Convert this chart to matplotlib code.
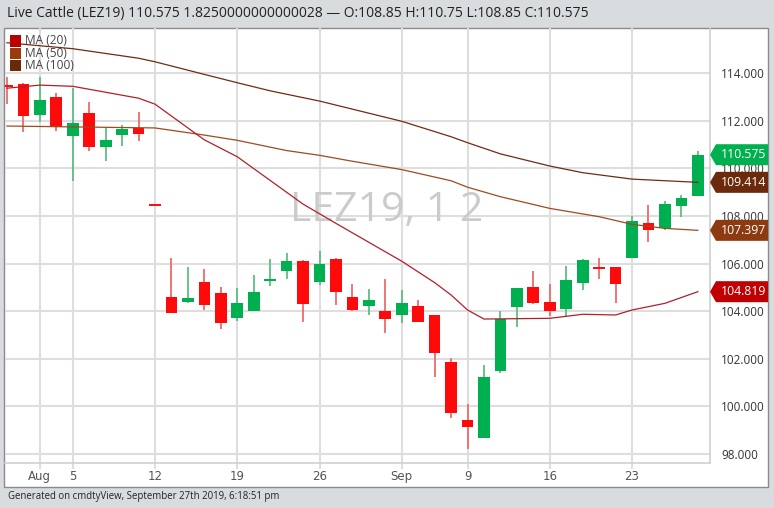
import matplotlib
matplotlib.use("Agg")
import matplotlib.pyplot as plt
from matplotlib.patches import Rectangle, Polygon
import matplotlib.transforms as mtransforms
from matplotlib.ticker import FuncFormatter

# ---------------- data ----------------
dates = ["Jul 30", "Jul 31", "Aug 1", "Aug 2",
         "Aug 5", "Aug 6", "Aug 7", "Aug 8", "Aug 9",
         "Aug 12", "Aug 13", "Aug 14", "Aug 15", "Aug 16",
         "Aug 19", "Aug 20", "Aug 21", "Aug 22", "Aug 23",
         "Aug 26", "Aug 27", "Aug 28", "Aug 29", "Aug 30",
         "Sep 3", "Sep 4", "Sep 5", "Sep 6",
         "Sep 9", "Sep 10", "Sep 11", "Sep 12", "Sep 13",
         "Sep 16", "Sep 17", "Sep 18", "Sep 19", "Sep 20",
         "Sep 23", "Sep 24", "Sep 25", "Sep 26", "Sep 27"]
opens = [113.47, 113.55, 112.24, 112.99,
         111.37, 112.32, 110.91, 111.40, 111.68,
         108.46, 104.58, 104.40, 105.24, 104.78,
         103.70, 104.02, 105.28, 105.69, 106.11,
         105.24, 106.19, 104.58, 104.23, 104.01,
         103.82, 104.22, 103.84, 101.85,
         99.43, 98.66, 101.49, 104.19, 105.00,
         104.40, 104.08, 105.20, 105.85, 105.84,
         106.22, 107.69, 107.51, 108.43, 108.85]
highs = [113.84, 113.57, 113.85, 113.18,
         113.37, 112.80, 111.73, 111.82, 112.38,
         108.46, 106.22, 105.87, 105.79, 105.03,
         104.96, 105.52, 106.19, 106.43, 106.13,
         106.53, 106.25, 105.14, 104.92, 105.35,
         104.89, 104.47, 103.84, 102.02,
         100.10, 101.74, 104.02, 104.96, 105.70,
         105.14, 105.90, 106.18, 106.22, 105.84,
         108.00, 108.46, 108.64, 108.88, 110.75]
lows = [112.70, 111.54, 111.96, 111.58,
        109.48, 110.74, 110.32, 110.94, 111.16,
        108.46, 103.94, 104.33, 104.05, 103.24,
        103.60, 104.02, 105.06, 105.34, 103.53,
        105.10, 104.26, 104.02, 103.84, 103.07,
        103.49, 103.56, 101.25, 99.50,
        98.20, 98.66, 101.39, 103.35, 104.29,
        103.80, 103.77, 104.89, 105.34, 104.36,
        106.22, 106.92, 107.41, 107.97, 108.85]
closes = [113.45, 112.21, 112.87, 111.73,
          111.92, 110.89, 111.19, 111.64, 111.45,
          108.46, 103.94, 104.55, 104.26, 103.52,
          104.36, 104.82, 105.35, 106.11, 104.29,
          105.98, 104.79, 104.05, 104.47, 103.66,
          104.33, 103.56, 102.23, 99.74,
          99.15, 101.22, 103.66, 104.96, 104.36,
          104.02, 105.31, 106.15, 105.81, 105.13,
          107.79, 107.41, 108.50, 108.74, 110.575]

# moving averages (trading-day index, value)
ma20_idx = [0, 2, 4, 6, 8, 9, 12, 14, 18, 20, 24, 26, 27, 28, 29, 33, 35, 37, 38, 40, 42]
ma20_val = [113.37, 113.50, 113.45, 113.20, 112.95, 112.70, 111.20, 110.49, 108.50, 107.69,
            106.10, 105.20, 104.68, 104.05, 103.67, 103.70, 103.87, 103.84, 104.05, 104.33, 104.819]
ma50_idx = [0, 9, 12, 14, 17, 19, 21, 24, 27, 28, 30, 33, 36, 38, 40, 42]
ma50_val = [111.78, 111.70, 111.40, 111.18, 110.75, 110.55, 110.30, 109.95, 109.48, 109.21,
            108.81, 108.32, 107.97, 107.65, 107.48, 107.397]
ma100_idx = [0, 4, 8, 9, 12, 14, 16, 19, 24, 27, 28, 30, 33, 35, 38, 42]
ma100_val = [115.28, 115.03, 114.63, 114.48, 113.95, 113.60, 113.26, 112.83, 111.98, 111.33,
             111.08, 110.61, 110.10, 109.82, 109.55, 109.414]

xtick_idx = [2, 4, 9, 14, 19, 24, 28, 33, 38]
xtick_labels = ["Aug", "5", "12", "19", "26", "Sep", "9", "16", "23"]
yticks = [98, 100, 102, 104, 106, 108, 110, 112, 114]

title = "Live Cattle (LEZ19) 110.575 1.8250000000000028 \u2014 O:108.85 H:110.75 L:108.85 C:110.575"
footer = "Generated on cmdtyView, September 27th 2019, 6:18:51 pm"
watermark = "LEZ19, 1 2"
ma_names = ["MA (20)", "MA (50)", "MA (100)"]
tags = [(110.575, "#00b050"), (ma100_val[-1], "#6b2a0c"), (ma50_val[-1], "#8c3a10"), (ma20_val[-1], "#c00000")]

# ---------------- styling ----------------
W, H = 774, 508
RED, GREEN = "#fe0a0a", "#00b050"
RED_W, GREEN_W = "#ee6a6a", "#5cbf80"
SANS = ["Open Sans", "DejaVu Sans"]

fig = plt.figure(figsize=(W / 100, H / 100), dpi=100, facecolor="#d9dcdf")

def frac(x0, y0, x1, y1):
    return [x0 / W, 1 - y1 / H, (x1 - x0) / W, (y1 - y0) / H]

panel = Rectangle((4 / W, 1 - 487 / H), 764 / W, 459 / H, transform=fig.transFigure,
                  facecolor="white", edgecolor="#8a8a8a", lw=1.0, zorder=-5)
fig.patches.append(panel)

ax_px = (5, 28, 710, 463)
ax = fig.add_axes(frac(*ax_px))
ax.set_zorder(1)
ax.set_facecolor("none")
ymin, ymax = 97.62, 115.90
ax.set_ylim(ymin, ymax)
ax.set_xlim(-0.12, 42.74)

# grid
ax.set_axisbelow(True)
ax.grid(True, color="#dedede", lw=1.5)
for s in ["top", "left"]:
    ax.spines[s].set_visible(False)
for s in ["right", "bottom"]:
    ax.spines[s].set_color("#d0d0d0")
    ax.spines[s].set_linewidth(1.2)

# watermark
ax.text(0.5, 1 - 211 / H, watermark, transform=fig.transFigure, fontsize=29.5,
        color="#cbcbcb", ha="center", va="center", family=SANS, zorder=0.8)

# candles
bw = 0.71
for i in range(len(dates)):
    o, h, l, c = opens[i], highs[i], lows[i], closes[i]
    up = c > o
    col = GREEN if up else RED
    wcol = GREEN_W if up else RED_W
    ax.vlines(i, l, h, color=wcol, lw=1.3, zorder=2)
    if abs(c - o) < 0.05:
        ax.hlines((o + c) / 2, i - bw / 2, i + bw / 2, color=col, lw=1.4, zorder=3)
    else:
        ax.bar(i, abs(c - o), bottom=min(o, c), width=bw, color=col, lw=0, zorder=3)

# moving averages
ax.plot(ma100_idx, ma100_val, color="#6e2c12", lw=0.9, zorder=4)
ax.plot(ma50_idx, ma50_val, color="#a04a1c", lw=0.9, zorder=4)
ax.plot(ma20_idx, ma20_val, color="#b0202a", lw=0.9, zorder=4)

# axes ticks
ax.yaxis.tick_right()
ax.set_yticks(yticks)
ax.yaxis.set_major_formatter(FuncFormatter(lambda v, p: f"{v:.3f}"))
ax.tick_params(axis="y", length=0, pad=8, labelsize=8.5, labelcolor="#333333")
for t in ax.get_yticklabels():
    t.set_family(SANS)
ax.set_xticks(xtick_idx)
ax.set_xticklabels(xtick_labels)
ax.tick_params(axis="x", length=4, width=1.5, color="#dedede", pad=1,
               labelsize=8.5, labelcolor="#555555")

# legend (manual)
ax_w = ax_px[2] - ax_px[0]
ax_h = ax_px[3] - ax_px[1]
leg_cols = ["#bb0000", "#9a3b0b", "#6a2a0a"]
for k, (name, lc) in enumerate(zip(ma_names, leg_cols)):
    yc = 41 + 12.3 * k
    ax.add_patch(Rectangle(((10 - ax_px[0]) / ax_w, 1 - (yc + 5.5 - ax_px[1]) / ax_h),
                           11 / ax_w, 11 / ax_h, transform=ax.transAxes,
                           facecolor=lc, edgecolor="none", zorder=6, clip_on=False))
    ax.text((25 - ax_px[0]) / ax_w, 1 - (yc - ax_px[1]) / ax_h, name,
            transform=ax.transAxes, fontsize=8.6, color="#444444", va="center",
            ha="left", family=SANS, zorder=6)

# price tags on the right axis
ppu = ax_h / (ymax - ymin)
half = 10.5 / ppu
btrans = mtransforms.blended_transform_factory(ax.transAxes, ax.transData)
x_tip, x_sh, x_r = 1.0, 1 + 6 / ax_w, 1 + 58 / ax_w
for val, col in tags:
    poly = Polygon([(x_tip, val), (x_sh, val + half), (x_r, val + half),
                    (x_r, val - half), (x_sh, val - half)], closed=True,
                   transform=btrans, facecolor=col, edgecolor="none",
                   zorder=10, clip_on=False)
    ax.add_patch(poly)
    ax.text(1 + 11 / ax_w, val, f"{val:.3f}", transform=btrans, color="white",
            fontsize=8.8, va="center", ha="left", family=SANS, zorder=11)

# title and footer
fig.text(7 / W, 1 - 13 / H, title, fontsize=10.0, va="center", ha="left",
         color="#222222", family=SANS)
fig.text(8 / W, 1 - 497 / H, footer, fontsize=6.9, va="center", ha="left",
         color="#222222", family=SANS)

fig.savefig("out.png", dpi=100, facecolor=fig.get_facecolor())
